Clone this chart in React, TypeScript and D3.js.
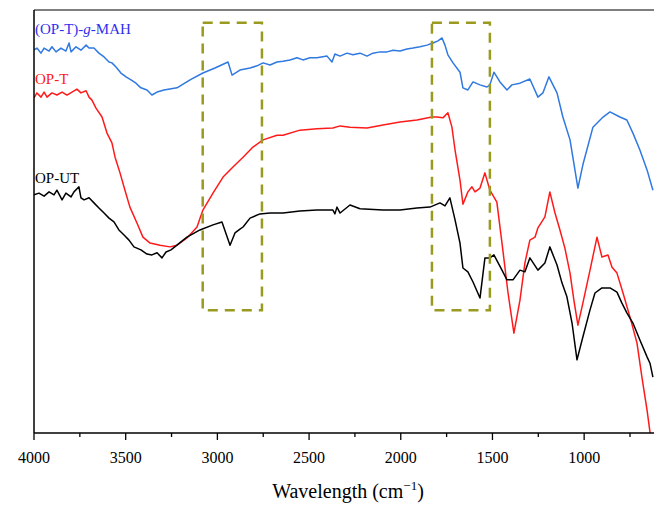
import React from 'react';
import * as d3 from 'd3';

// FTIR spectra, wavenumber (cm-1) vs transmittance (a.u., stacked)
const mahWn = [4000, 3984, 3962, 3945, 3918, 3902, 3880, 3853, 3826, 3809,
  3798, 3771, 3744, 3716, 3700, 3673, 3646, 3618, 3591, 3575,
  3553, 3526, 3498, 3471, 3444, 3417, 3384, 3357, 3329, 3291,
  3220, 3149, 3079, 3013, 2942, 2920, 2877, 2822, 2784, 2751,
  2713, 2675, 2642, 2604, 2566, 2533, 2495, 2457, 2402, 2375,
  2359, 2331, 2293, 2261, 2222, 2184, 2152, 2113, 2075, 2042,
  2004, 1966, 1933, 1895, 1857, 1824, 1797, 1775, 1759, 1743,
  1715, 1677, 1661, 1634, 1606, 1568, 1530, 1514, 1492, 1459,
  1421, 1394, 1350, 1296, 1252, 1225, 1192, 1148, 1116, 1077,
  1034, 1007, 952, 897, 859, 805, 767, 734, 696, 657, 625];
const mahT = [90.6, 91.0, 89.8, 91.0, 90.3, 91.3, 90.1, 91.0, 90.3, 92.2,
  90.1, 91.3, 90.5, 91.7, 91.0, 91.0, 89.8, 88.9, 87.7, 87.5,
  86.5, 85.1, 84.2, 83.5, 82.7, 81.6, 81.1, 79.9, 80.6, 81.1,
  81.6, 83.5, 85.1, 86.3, 87.7, 84.6, 85.8, 86.3, 86.8, 87.5,
  87.0, 87.7, 87.9, 88.2, 88.7, 88.2, 88.7, 88.7, 89.1, 87.7,
  89.6, 89.1, 89.8, 89.4, 89.8, 89.1, 89.8, 90.1, 90.1, 90.5,
  90.3, 90.8, 91.0, 91.3, 91.7, 92.2, 92.7, 93.4, 91.7, 89.4,
  87.5, 85.3, 81.6, 81.1, 83.0, 82.3, 81.8, 82.3, 85.3, 83.0,
  81.1, 82.3, 82.7, 83.7, 79.4, 80.4, 84.2, 80.4, 74.7, 69.3,
  57.9, 63.4, 72.3, 74.7, 75.9, 74.7, 74.0, 70.9, 66.9, 62.2, 57.4];

const optWn = [4000, 3984, 3962, 3945, 3929, 3902, 3875, 3847, 3820, 3793,
  3766, 3744, 3716, 3700, 3684, 3662, 3629, 3602, 3575, 3558,
  3531, 3504, 3477, 3438, 3406, 3367, 3313, 3258, 3220, 3166,
  3111, 3079, 3024, 2969, 2915, 2860, 2806, 2751, 2675, 2642,
  2550, 2457, 2370, 2331, 2277, 2184, 2097, 2004, 1912, 1830,
  1803, 1770, 1743, 1721, 1704, 1677, 1661, 1634, 1612, 1595,
  1568, 1541, 1514, 1476, 1448, 1415, 1383, 1350, 1323, 1296,
  1268, 1252, 1214, 1187, 1159, 1132, 1105, 1077, 1056, 1034,
  1007, 968, 930, 903, 870, 848, 821, 788, 750, 712,
  685, 657, 641, 620];
const optT = [79.2, 80.4, 79.4, 80.6, 79.4, 80.4, 79.9, 80.6, 79.9, 80.6,
  81.3, 80.4, 80.9, 79.4, 78.7, 76.8, 74.7, 70.9, 68.6, 65.2,
  61.5, 57.4, 53.4, 49.6, 46.3, 44.9, 44.4, 44.0, 44.4, 46.1,
  48.7, 52.7, 56.7, 60.5, 62.9, 65.2, 67.6, 69.3, 70.4, 70.4,
  71.6, 71.9, 72.1, 72.6, 72.3, 72.1, 72.8, 73.5, 74.0, 74.7,
  74.7, 74.5, 75.7, 72.3, 66.9, 59.8, 54.1, 57.0, 58.2, 57.0,
  57.9, 61.5, 57.4, 54.6, 44.9, 33.1, 23.6, 31.4, 40.2, 45.6,
  46.3, 48.5, 51.1, 57.0, 52.0, 48.0, 43.7, 37.8, 31.4, 25.5,
  30.7, 38.5, 46.3, 41.6, 42.1, 39.2, 37.8, 33.1, 27.4, 21.3,
  13.2, 5.4, 0.2, -8];

const utWn = [4000, 3973, 3945, 3918, 3891, 3875, 3847, 3826, 3798, 3782,
  3755, 3744, 3727, 3700, 3673, 3646, 3618, 3591, 3564, 3537,
  3509, 3482, 3455, 3417, 3384, 3357, 3329, 3302, 3280, 3253,
  3166, 3095, 3024, 2975, 2931, 2904, 2877, 2860, 2822, 2768,
  2713, 2642, 2550, 2457, 2370, 2359, 2348, 2331, 2277, 2222,
  2097, 2004, 1912, 1841, 1786, 1759, 1732, 1704, 1677, 1661,
  1634, 1606, 1568, 1541, 1514, 1492, 1448, 1421, 1388, 1350,
  1323, 1296, 1252, 1214, 1187, 1148, 1121, 1094, 1066, 1039,
  1007, 968, 941, 903, 859, 821, 794, 767, 734, 696,
  657, 641, 625];
const utT = [56.3, 56.7, 56.0, 57.0, 56.3, 57.4, 55.1, 56.7, 55.8, 57.0,
  58.2, 55.6, 55.1, 55.6, 54.4, 53.2, 52.0, 50.8, 49.9, 48.0,
  46.8, 45.6, 44.0, 43.3, 42.3, 42.1, 42.6, 41.4, 42.8, 43.3,
  46.3, 48.0, 49.2, 49.9, 44.4, 47.3, 48.2, 48.7, 50.8, 51.8,
  52.0, 52.0, 52.5, 52.7, 52.7, 51.8, 53.4, 52.0, 53.9, 53.0,
  52.7, 52.7, 53.2, 53.4, 54.4, 53.7, 55.6, 50.4, 44.9, 39.0,
  38.1, 35.7, 31.9, 41.4, 41.4, 42.1, 38.5, 36.2, 36.2, 38.5,
  38.1, 41.4, 38.5, 40.2, 44.0, 39.7, 35.5, 32.2, 26.0, 17.3,
  22.7, 29.1, 33.1, 34.3, 34.3, 33.3, 30.7, 28.4, 26.0, 22.0,
  18.0, 16.5, 13.2];

const majorTicks = [4000, 3500, 3000, 2500, 2000, 1500, 1000];
const minorTicks = [3750, 3250, 2750, 2250, 1750, 1250, 750];

// highlighted regions [from, to] in cm-1, with transmittance bounds
const boxWn = [[3080, 2757], [1830, 1514]];
const boxT = [29, 97];

const W = 654;
const H = 507;

export default function App() {
  const x = d3.scaleLinear().domain([4000, 600]).range([34, 657.5]);
  const y = d3.scaleLinear().domain([0, 100]).range([433, 10]);

  const line = d3.line<[number, number]>()
    .x(d => x(d[0]))
    .y(d => y(d[1]));

  const series = [
    { wn: mahWn, t: mahT, color: '#2f79e0' },
    { wn: optWn, t: optT, color: '#ff1a1a' },
    { wn: utWn, t: utT, color: '#000000' },
  ];

  const font = 'Liberation Serif, Times New Roman, serif';

  return (
    <svg width={W} height={H} style={{ position: 'absolute', left: 0, top: 0, background: '#fff' }}>
      <defs>
        <clipPath id="plot">
          <rect x={34} y={10} width={W - 34} height={423} />
        </clipPath>
      </defs>

      <g clipPath="url(#plot)">
        {series.map((s, i) => (
          <path key={i}
            d={line(s.wn.map((w, j) => [w, s.t[j]] as [number, number])) || ''}
            fill="none" stroke={s.color} strokeWidth={1.5} strokeLinejoin="round" />
        ))}
      </g>

      {boxWn.map((b, i) => (
        <rect key={i} x={x(b[0])} y={y(boxT[1])} width={x(b[1]) - x(b[0])} height={y(boxT[0]) - y(boxT[1])}
          fill="none" stroke="#9a9a20" strokeWidth={2.5} strokeDasharray="10,7" />
      ))}

      {/* frame */}
      <line x1={34} x2={W} y1={10} y2={10} stroke="#555" strokeWidth={1.5} />
      <line x1={34} x2={34} y1={10} y2={433} stroke="#000" strokeWidth={1.5} />
      <line x1={34} x2={W} y1={433} y2={433} stroke="#000" strokeWidth={1.5} />

      {majorTicks.map(t => (
        <g key={t}>
          <line x1={x(t)} x2={x(t)} y1={433} y2={440} stroke="#000" strokeWidth={1.3} />
          <text x={x(t)} y={463} textAnchor="middle" fontFamily={font} fontSize={16}>{t}</text>
        </g>
      ))}
      {minorTicks.map(t => (
        <line key={t} x1={x(t)} x2={x(t)} y1={433} y2={437} stroke="#000" strokeWidth={1.3} />
      ))}

      <text x={348} y={498} textAnchor="middle" fontFamily={font} fontSize={20}>
        Wavelength (cm<tspan dy={-8} fontSize={13}>−1</tspan><tspan dy={8}>)</tspan>
      </text>

      <text x={35} y={34} fontFamily={font} fontSize={15} fill="#3030f0">
        (OP-T)-<tspan fontStyle="italic">g</tspan>-MAH
      </text>
      <text x={35} y={84} fontFamily={font} fontSize={15} fill="#ff1a1a">OP-T</text>
      <text x={35} y={183} fontFamily={font} fontSize={15} fill="#000">OP-UT</text>
    </svg>
  );
}
